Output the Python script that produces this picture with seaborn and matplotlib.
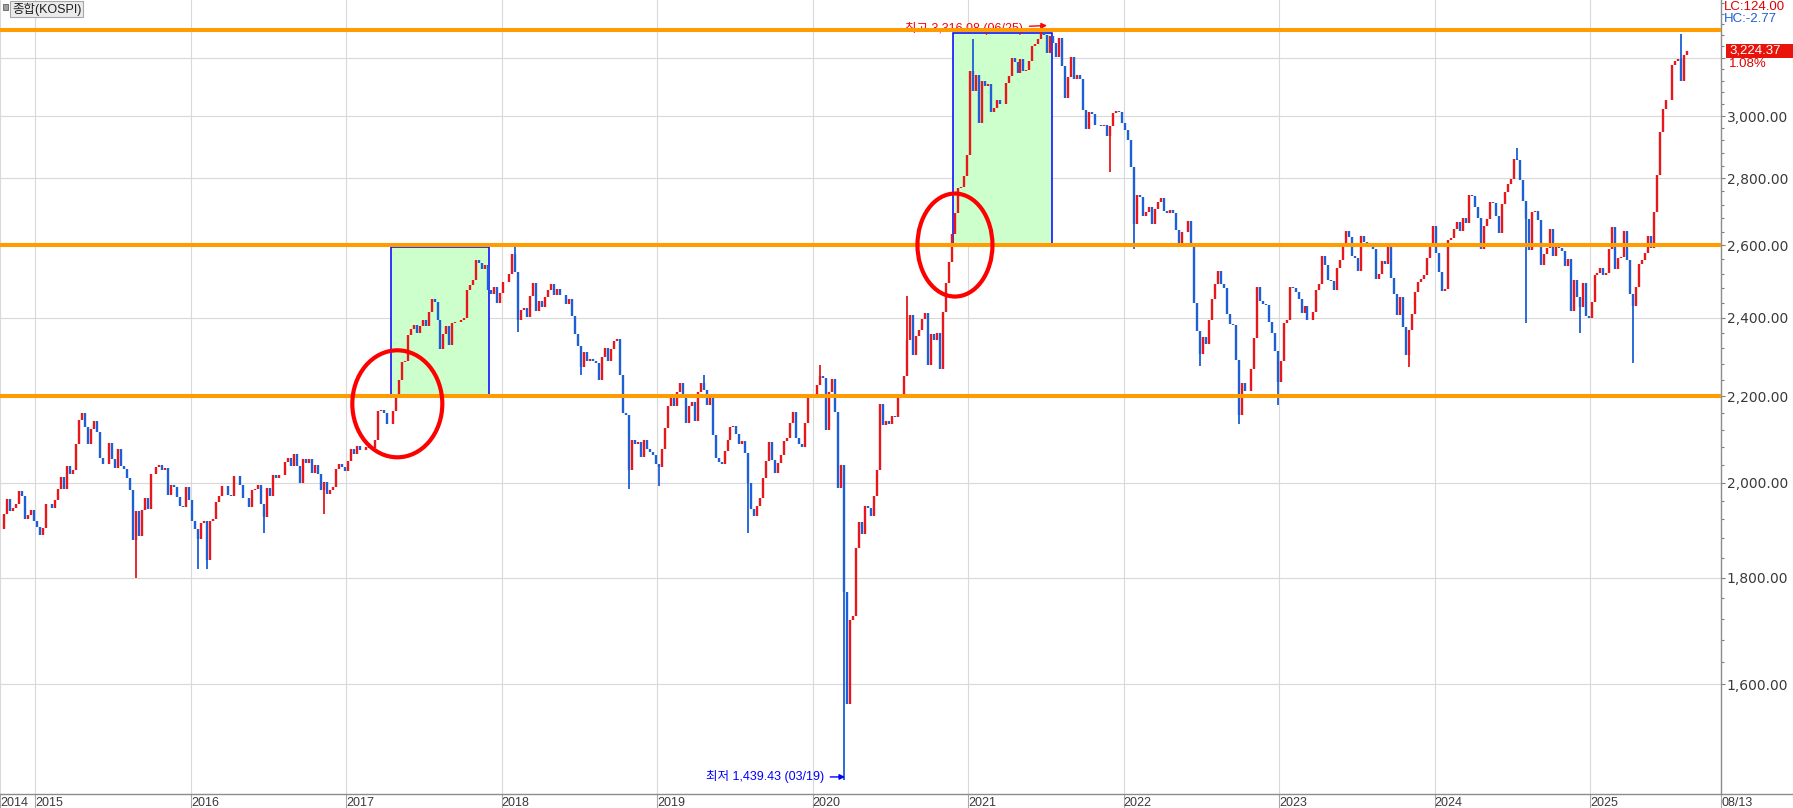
import numpy as np
import pandas as pd
import matplotlib
matplotlib.use("Agg")
import matplotlib.pyplot as plt
import matplotlib.transforms as mtransforms
from matplotlib.patches import Ellipse, Rectangle
from matplotlib.lines import Line2D
from matplotlib.ticker import FixedLocator, FixedFormatter, NullFormatter
import seaborn as sns

# KOSPI weekly closes (2014 starts at week 40)
close_2014 = [1900, 1931, 1964, 1939, 1944, 1953, 1981, 1971, 1921, 1929, 1940, 1916]
close_2015 = [1904, 1888, 1902, 1952, 1953, 1944, 1961, 1985, 2012, 1986, 2037, 2019,
              2029, 2087, 2143, 2159, 2127, 2086, 2121, 2140, 2114, 2055, 2042, 2042,
              2090, 2052, 2032, 2076, 2038, 2030, 2010, 1983, 1876, 1937, 1886, 1941,
              1965, 1942, 2019, 2019, 2034, 2040, 2029, 2033, 1973, 1994, 1991, 1969,
              1948, 1946, 1990, 1961]
close_2016 = [1917, 1900, 1879, 1912, 1917, 1835, 1916, 1920, 1958, 1971, 1992, 1992,
              1973, 1970, 2015, 2015, 1994, 1967, 1966, 1947, 1983, 1985, 1994, 1953,
              1925, 1988, 1971, 2017, 2010, 2016, 2017, 2045, 2056, 2038, 2063, 2037,
              1999, 2053, 2043, 2053, 2022, 2040, 2019, 1983, 2002, 1974, 1983, 1991,
              2031, 2042, 2035, 2026]
close_2017 = [2049, 2076, 2065, 2083, 2073, 2074, 2080, 2078, 2078, 2097, 2164, 2168,
              2160, 2133, 2134, 2165, 2205, 2241, 2286, 2288, 2355, 2371, 2381, 2361,
              2378, 2395, 2379, 2414, 2450, 2443, 2395, 2319, 2358, 2378, 2329, 2386,
              2388, 2389, 2394, 2400, 2474, 2489, 2501, 2557, 2550, 2533, 2544, 2476,
              2464, 2482, 2440, 2467]
close_2018 = [2497, 2496, 2520, 2574, 2525, 2395, 2421, 2427, 2402, 2459, 2494, 2417,
              2445, 2429, 2455, 2476, 2492, 2461, 2477, 2460, 2460, 2438, 2451, 2404,
              2357, 2326, 2272, 2310, 2289, 2294, 2287, 2282, 2240, 2299, 2322, 2288,
              2318, 2339, 2343, 2253, 2161, 2156, 2027, 2096, 2086, 2092, 2057, 2096,
              2075, 2069, 2061, 2041]
close_2019 = [2035, 2076, 2124, 2177, 2203, 2177, 2210, 2234, 2195, 2137, 2176, 2186,
              2140, 2210, 2233, 2216, 2179, 2196, 2108, 2055, 2045, 2041, 2072, 2096,
              2126, 2130, 2110, 2086, 2094, 2066, 1998, 1943, 1927, 1948, 1967, 2009,
              2049, 2091, 2050, 2021, 2044, 2061, 2093, 2100, 2137, 2162, 2101, 2087,
              2081, 2137, 2205, 2204]
close_2020 = [2206, 2229, 2250, 2246, 2119, 2211, 2243, 2162, 1987, 2040, 1771, 1566,
              1717, 1725, 1860, 1914, 1889, 1948, 1945, 1927, 1970, 2029, 2181, 2132,
              2141, 2134, 2152, 2150, 2201, 2200, 2249, 2342, 2407, 2304, 2353, 2368,
              2396, 2412, 2278, 2358, 2341, 2360, 2267, 2416, 2493, 2553, 2633, 2696,
              2770, 2772, 2806, 2873]
close_2021 = [3152, 3085, 3140, 2976, 3120, 3100, 3107, 3013, 3026, 3054, 3039, 3041,
              3112, 3135, 3198, 3186, 3147, 3197, 3153, 3156, 3188, 3240, 3249, 3268,
              3302, 3281, 3217, 3276, 3254, 3202, 3270, 3171, 3060, 3133, 3201, 3125,
              3140, 3125, 3019, 2956, 3015, 3006, 2970, 2969, 2968, 2971, 2936, 2968,
              3010, 3017, 3012, 2977]
close_2022 = [2954, 2921, 2834, 2663, 2750, 2744, 2686, 2699, 2713, 2661, 2707, 2729,
              2739, 2700, 2696, 2704, 2695, 2644, 2604, 2639, 2638, 2670, 2595, 2440,
              2366, 2305, 2350, 2330, 2393, 2451, 2490, 2527, 2492, 2481, 2409, 2384,
              2382, 2290, 2155, 2232, 2212, 2213, 2268, 2348, 2483, 2444, 2437, 2434,
              2389, 2360, 2313, 2236]
close_2023 = [2289, 2386, 2395, 2484, 2480, 2470, 2451, 2412, 2432, 2394, 2395, 2414,
              2476, 2490, 2571, 2544, 2501, 2500, 2475, 2537, 2559, 2601, 2641, 2625,
              2570, 2564, 2526, 2628, 2609, 2608, 2602, 2591, 2504, 2519, 2556, 2547,
              2601, 2508, 2465, 2408, 2456, 2375, 2302, 2368, 2409, 2469, 2496, 2505,
              2517, 2563, 2599, 2655]
close_2024 = [2578, 2525, 2473, 2478, 2615, 2620, 2648, 2667, 2642, 2680, 2666, 2748,
              2746, 2714, 2681, 2591, 2656, 2676, 2727, 2724, 2687, 2636, 2722, 2758,
              2784, 2797, 2862, 2857, 2795, 2731, 2676, 2588, 2697, 2701, 2674, 2544,
              2575, 2593, 2649, 2569, 2597, 2593, 2583, 2542, 2561, 2417, 2501, 2455,
              2428, 2494, 2404, 2399]
close_2025 = [2441, 2515, 2523, 2536, 2517, 2521, 2591, 2654, 2532, 2563, 2566, 2643,
              2557, 2465, 2432, 2483, 2546, 2559, 2577, 2626, 2592, 2697, 2812, 2946,
              3022, 3055, 3054, 3175, 3188, 3196, 3119, 3210, 3224]

# intraday extremes that stick out of the weekly closes
spike_x = [2015.645, 2016.055, 2016.115, 2016.48, 2016.86, 2018.077, 2018.11, 2018.51,
           2018.826, 2019.01, 2019.29, 2019.595, 2020.055, 2020.208, 2020.615, 2021.027,
           2021.48, 2021.915, 2022.075, 2022.50, 2022.747, 2023.0, 2023.83, 2024.525,
           2024.595, 2024.94, 2025.27, 2025.58]
spike_val = [1800, 1817, 1818, 1892, 1931, 2607, 2363, 2252,
             1985, 1993, 2252, 1891, 2277, 1439.43, 2458, 3266,
             3316.08, 2821, 2591, 2276, 2134.77, 2180, 2273, 2896,
             2386, 2360, 2284, 3285]

levels = [2200, 2600, 3300]
box_x0 = [2017.29, 2020.90]
box_x1 = [2017.92, 2021.54]
box_lo = [2204, 2604]
box_hi = [2594, 3290]
ring_x = [2017.328, 2020.915]
ring_y = [2182, 2601]
ring_w = [90, 75]     # px
ring_h = [107, 103]   # px

year_ticks = [2015, 2016, 2017, 2018, 2019, 2020, 2021, 2022, 2023, 2024, 2025]
price_ticks = [1600, 1800, 2000, 2200, 2400, 2600, 2800, 3000, 3200]

RED = "#e8171c"
BLUE = "#1c5fd6"
ORANGE = "#ff9c00"

sns.set_style("white")
plt.rcParams["font.family"] = ["Liberation Sans", "Noto Sans CJK KR"]

W, H = 1793, 808
fig = plt.figure(figsize=(W / 100, H / 100), dpi=100)
ax = fig.add_axes([0, 14 / H, 1721 / W, 1 - 14 / H])

yearly = [(2014, close_2014), (2015, close_2015), (2016, close_2016), (2017, close_2017),
          (2018, close_2018), (2019, close_2019), (2020, close_2020), (2021, close_2021),
          (2022, close_2022), (2023, close_2023), (2024, close_2024), (2025, close_2025)]
xs, cs = [], []
for yr, vals in yearly:
    w0 = 40 if yr == 2014 else 0
    xs += [yr + (w0 + i + 0.5) / 52 for i in range(len(vals))]
    cs += vals
df = pd.DataFrame({"x": xs, "close": cs})
df["prev"] = df["close"].shift(1).fillna(df["close"])
df["up"] = df["close"] >= df["prev"]
df["color"] = np.where(df["up"], RED, BLUE)

x_left, x_right = 2014.7723, 2025.8425
ax.set_xlim(x_left, x_right)
ax.set_yscale("log")
ax.set_ylim(1417, 3411)

# boxes
for x0, x1, lo, hi in zip(box_x0, box_x1, box_lo, box_hi):
    ax.add_patch(Rectangle((x0, lo), x1 - x0, hi - lo, facecolor="#ccffcc",
                           edgecolor="#0000ff", lw=1.1, zorder=1))

# weekly bars
ax.vlines(df["x"], np.minimum(df["prev"], df["close"]), np.maximum(df["prev"], df["close"]),
          colors=df["color"], lw=1.7, zorder=3)
for sx, sv in zip(spike_x, spike_val):
    j = int(np.argmin(np.abs(df["x"].values - sx)))
    c = df["close"].iloc[j]
    ax.vlines(df["x"].iloc[j], min(c, sv), max(c, sv), colors=df["color"].iloc[j], lw=1.3, zorder=3)

for v in levels:
    ax.axhline(v, color=ORANGE, lw=2.9, zorder=4)

# rings around the breakouts
for rx, ry, rw, rh in zip(ring_x, ring_y, ring_w, ring_h):
    tr = fig.dpi_scale_trans + mtransforms.ScaledTranslation(rx, ry, ax.transData)
    ax.add_patch(Ellipse((0, 0), rw / 100, rh / 100, transform=tr, fill=False,
                         edgecolor="#ff0000", lw=3.0, zorder=5))

ax.annotate("최고 3,316.08 (06/25)", xy=(2021.507, 3316.08), xytext=(-17, -2.5),
            textcoords="offset points", ha="right", va="center", color="#ff0000",
            fontsize=9, zorder=2.5,
            arrowprops=dict(arrowstyle="-|>", color="#ff0000", lw=1, shrinkA=2, shrinkB=0,
                            mutation_scale=8))
ax.annotate("최저 1,439.43 (03/19)", xy=(2020.208, 1444), xytext=(-15, 0),
            textcoords="offset points", ha="right", va="center", color="#0000ff",
            fontsize=9, zorder=5,
            arrowprops=dict(arrowstyle="-|>", color="#0000ff", lw=1, shrinkA=2, shrinkB=0,
                            mutation_scale=8))

# axes styling
ax.yaxis.tick_right()
ax.yaxis.set_major_locator(FixedLocator(price_ticks))
ax.yaxis.set_major_formatter(FixedFormatter([f"{v:,.2f}" if v < 3200 else "" for v in price_ticks]))
ax.yaxis.set_minor_locator(FixedLocator([v for v in range(1600, 3401, 40) if v not in price_ticks]))
ax.yaxis.set_minor_formatter(NullFormatter())
ax.tick_params(axis="y", which="major", right=True, length=3, width=0.8, color="#808080",
               labelsize=10, labelcolor="#3a3a3a", pad=1)
ax.tick_params(axis="y", which="minor", right=True, length=2, width=0.8, color="#808080")
for lbl in ax.get_yticklabels():
    lbl.set_fontfamily("DejaVu Sans")

ax.set_xticks([x_left] + year_ticks + [x_right])
ax.set_xticklabels(["2014"] + [str(y) for y in year_ticks] + ["08/13"], ha="left")
ax.tick_params(axis="x", bottom=True, direction="out", length=10, width=0.8, color="#a8a8a8",
               labelsize=9, labelcolor="#3a3a3a", pad=-8)

ax.grid(True, which="major", color="#d9d9d9", lw=0.8, zorder=0)
ax.set_axisbelow(True)
for side in ["left", "top"]:
    ax.spines[side].set_visible(False)
for side in ["right", "bottom"]:
    ax.spines[side].set_color("#8c8c8c")
    ax.spines[side].set_linewidth(1)
fig.add_artist(Line2D([1721 / W, 1], [14 / H, 14 / H], color="#8c8c8c", lw=1))

# top-left series label
fig.add_artist(Rectangle((3 / W, 1 - 10 / H), 5 / W, 6 / H, transform=fig.transFigure,
                         facecolor="#a0a0a0", edgecolor="#606060", lw=0.6))
fig.text(12 / W, 1 - 9 / H, "종합(KOSPI)", fontsize=9, ha="left", va="center", color="#202020",
         bbox=dict(boxstyle="square,pad=0.15", facecolor="#ebebeb", edgecolor="#a8a8a8", lw=0.8))

# right side labels
fig.text(1724 / W, 1 - 7 / H, "LC:124.00", fontsize=9.5, color="#e00000", ha="left", va="center")
fig.text(1724 / W, 1 - 19 / H, "HC:-2.77", fontsize=9.5, color="#1c5fd6", ha="left", va="center")
y_last = ax.transData.transform((x_right, 3224.37))[1]
fig.add_artist(Rectangle((1726 / W, (y_last - 7) / H), (W - 1726) / W, 14 / H,
                         transform=fig.transFigure, facecolor="#e8140c", edgecolor="none"))
fig.text(1729 / W, y_last / H, "3,224.37", fontsize=9.5, color="white", ha="left", va="center")
fig.text(1729 / W, (y_last - 13) / H, "1.08%", fontsize=9.5, color="#e00000", ha="left", va="center")

fig.savefig("out.png", dpi=100)
